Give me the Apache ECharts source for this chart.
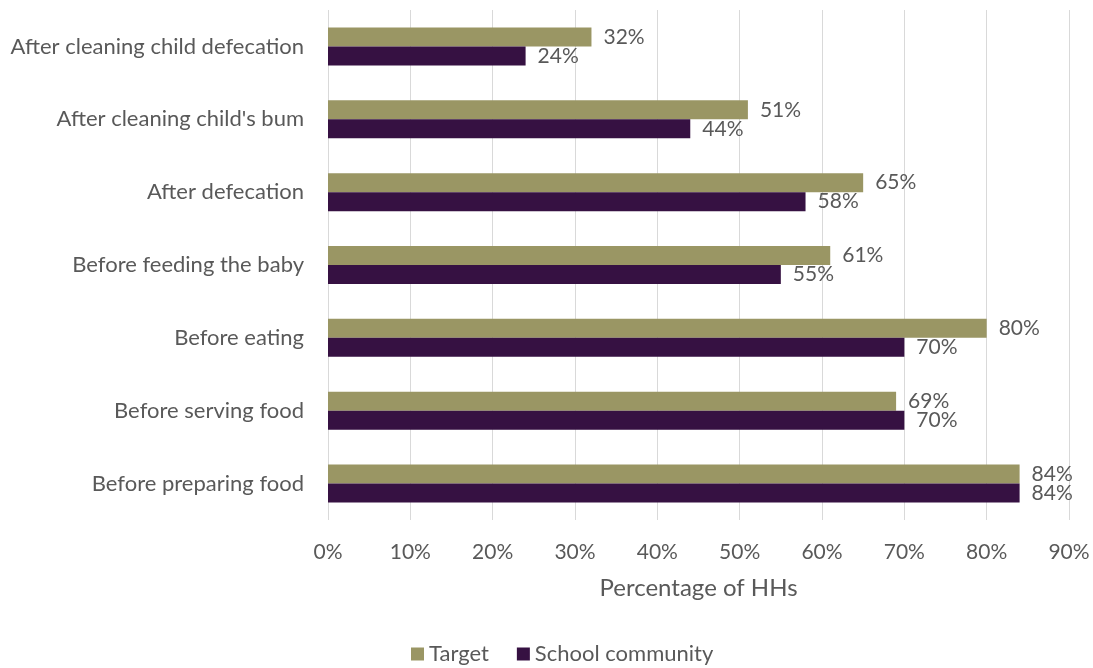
<!DOCTYPE html>
<html>
<head>
<meta charset="utf-8">
<script src="https://cdn.jsdelivr.net/npm/echarts@6/dist/echarts.min.js"></script>
<style>
  html, body { margin: 0; padding: 0; background: #fff; }
  #chart { width: 1093px; height: 668px; }
</style>
</head>
<body>
<div id="chart"></div>
<script>
// Handwashing moments, bottom-to-top order on the category axis
const categories = [
  'Before preparing food',
  'Before serving food',
  'Before eating',
  'Before feeding the baby',
  'After defecation',
  "After cleaning child's bum",
  'After cleaning child defecation'
];
const targetValues = [84, 69, 80, 61, 65, 51, 32];
const schoolValues = [84, 70, 70, 55, 58, 44, 24];
const xTicks = [0, 10, 20, 30, 40, 50, 60, 70, 80, 90];

const FONT = 'Lato';
const TEXT = '#595959';

const chart = echarts.init(document.getElementById('chart'));
chart.setOption({
  animation: false,
  textStyle: { fontFamily: FONT },
  grid: { left: 328, right: 24, top: 10, bottom: 148, containLabel: false },
  legend: {
    top: 638,
    left: 406,
    padding: 5,
    itemWidth: 13,
    itemHeight: 13,
    itemGap: 28,
    icon: 'rect',
    textStyle: { color: TEXT, fontSize: 22, fontFamily: FONT },
    data: ['Target', 'School community']
  },
  xAxis: {
    type: 'value',
    min: xTicks[0],
    max: xTicks[xTicks.length - 1],
    interval: 10,
    name: 'Percentage of HHs',
    nameLocation: 'middle',
    nameGap: 56,
    nameTextStyle: { color: TEXT, fontSize: 24, fontFamily: FONT },
    axisLine: { show: false },
    axisTick: { show: false },
    axisLabel: { color: TEXT, fontSize: 21, margin: 22, formatter: v => v + '%' },
    splitLine: { show: true, lineStyle: { color: '#d9d9d9', width: 1 } }
  },
  yAxis: {
    type: 'category',
    data: categories,
    axisLine: { show: false },
    axisTick: { show: false },
    axisLabel: { color: TEXT, fontSize: 22, margin: 24 }
  },
  series: [
    {
      name: 'Target',
      type: 'bar',
      data: targetValues,
      barWidth: 19,
      barGap: '0%',
      itemStyle: { color: '#9a9664' },
      label: { show: true, position: 'right', distance: 12, color: TEXT, fontSize: 21, formatter: '{c}%' }
    },
    {
      name: 'School community',
      type: 'bar',
      data: schoolValues,
      barWidth: 19,
      barGap: '0%',
      itemStyle: { color: '#361142' },
      label: { show: true, position: 'right', distance: 12, color: TEXT, fontSize: 21, formatter: '{c}%' }
    }
  ]
});
</script>
</body>
</html>
